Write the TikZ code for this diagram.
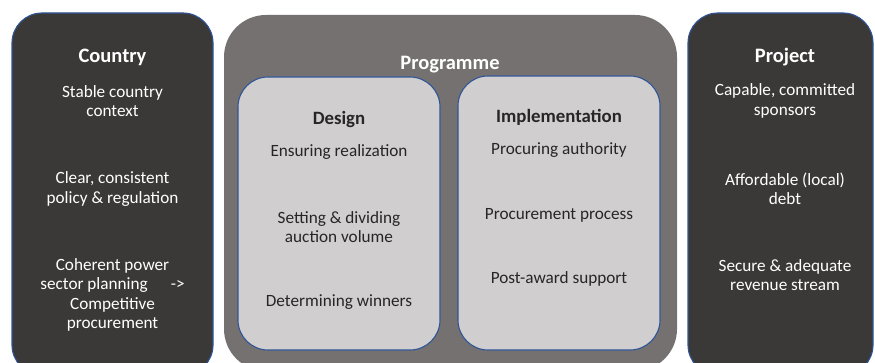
\documentclass[tikz,border=0pt]{standalone}
\usepackage{fontspec}
\setmainfont{Carlito}
\definecolor{darkfill}{HTML}{3B3838}
\definecolor{progfill}{HTML}{767171}
\definecolor{lightfill}{HTML}{D0CECE}
\definecolor{edgeblue}{HTML}{2F5597}
\definecolor{bodytext}{HTML}{262626}
\tikzset{
  box/.style={rectangle, inner sep=0pt, outer sep=0pt, anchor=north west},
  pillarbox/.style={box, fill=darkfill, draw=edgeblue, line width=1.1pt, rounded corners=30pt},
  progbox/.style={box, fill=progfill, rounded corners=42pt},
  phasebox/.style={box, fill=lightfill, draw=edgeblue, line width=1.1pt, rounded corners=30pt},
  bodyfont/.style={font=\fontsize{17.2}{19.3}\selectfont, align=center, inner sep=0pt},
  titlefont/.style={font=\fontsize{20.5}{23}\selectfont\bfseries, align=center, inner sep=0pt},
  subtitlefont/.style={font=\fontsize{18.8}{22}\selectfont\bfseries, align=center, inner sep=0pt},
  light/.style={text=white},
  dark/.style={text=bodytext},
}
\begin{document}
\begin{tikzpicture}[x=1pt,y=1pt]
\useasboundingbox (0,0) rectangle (875,362);
\clip (0,0) rectangle (875,362);

% three pillars
\node[pillarbox, minimum width=201pt, minimum height=362pt] (country) at (12,349) {};
\node[progbox, minimum width=453pt, minimum height=356pt] (programme) at (224,347) {};
\node[pillarbox, minimum width=185pt, minimum height=362pt] (project) at (688,349) {};

% programme phases
\node[phasebox, minimum width=202pt, minimum height=273pt] (design) at (238,285) {};
\node[phasebox, minimum width=202pt, minimum height=274pt] (impl) at (458,286) {};

% Country
\node[titlefont, light] (countryT) at (112.5,305) {Country};
\node[bodyfont, light] (c1) at (112.5,261) {Stable country\\context};
\node[bodyfont, light] (c2) at (112.5,173) {Clear, consistent\\policy \& regulation};
\node[bodyfont, light] (c3) at (112.5,67) {Coherent power\\sector planning\hspace{23pt}->\\Competitive\\procurement};

% Programme
\node[titlefont, light] (progT) at (450,297) {Programme};

% Design
\node[subtitlefont, dark] (designT) at (339,243) {Design};
\node[bodyfont, dark] (d1) at (339,210) {Ensuring realization};
\node[bodyfont, dark] (d2) at (339,135) {Setting \& dividing\\auction volume};
\node[bodyfont, dark] (d3) at (339,60) {Determining winners};

% Implementation
\node[subtitlefont, dark] (implT) at (559,245) {Implementation};
\node[bodyfont, dark] (i1) at (559,212) {Procuring authority};
\node[bodyfont, dark] (i2) at (559,147) {Procurement process};
\node[bodyfont, dark] (i3) at (559,83) {Post-award support};

% Project
\node[titlefont, light] (projectT) at (785,305) {Project};
\node[bodyfont, light] (p1) at (785,261) {Capable, committed\\sponsors};
\node[bodyfont, light] (p2) at (785,173) {Affordable (local)\\debt};
\node[bodyfont, light] (p3) at (785,87) {Secure \& adequate\\revenue stream};
\end{tikzpicture}
\end{document}
